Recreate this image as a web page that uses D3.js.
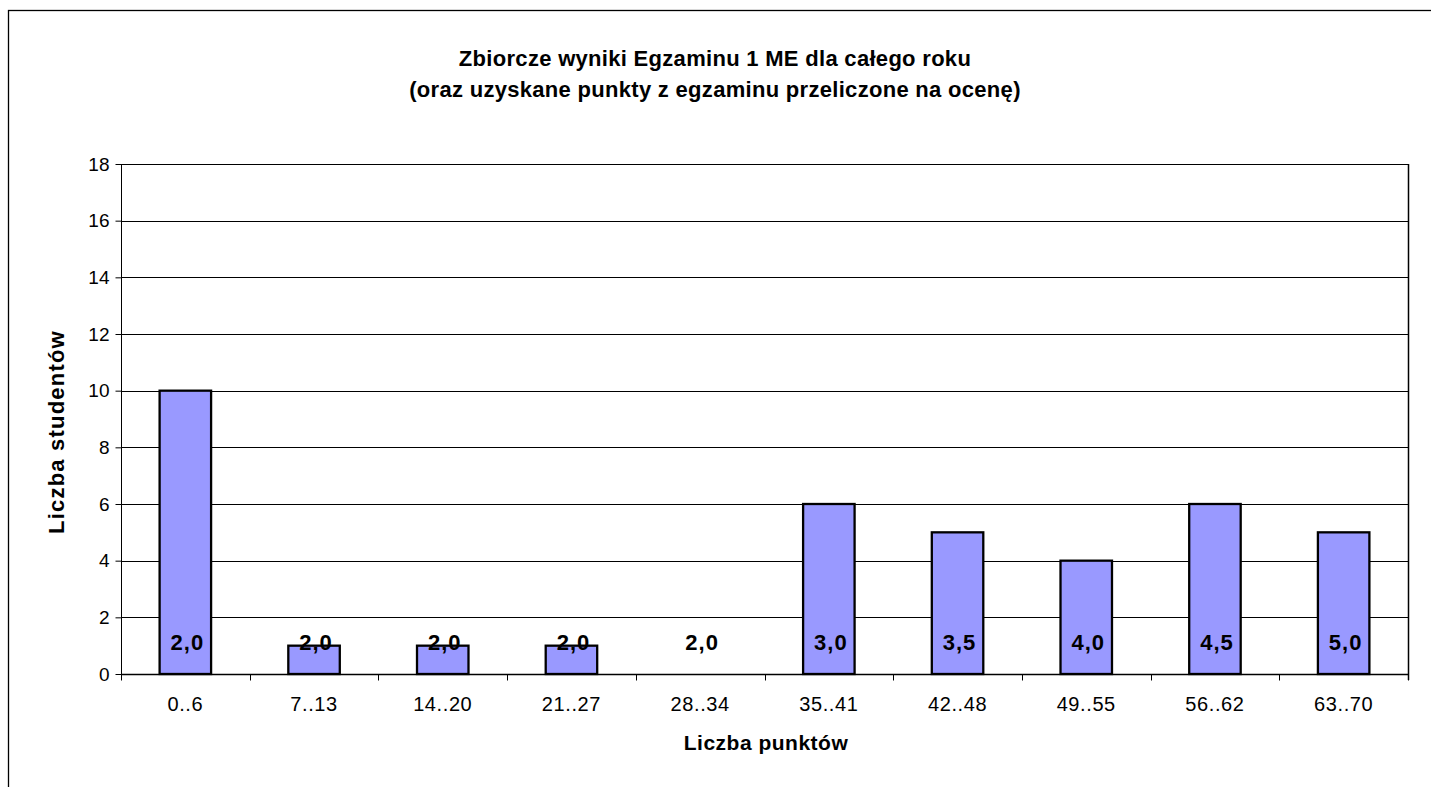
<!DOCTYPE html>
<html>
<head>
<meta charset="utf-8">
<script src="https://cdn.jsdelivr.net/npm/d3@7"></script>
<style>
  body { margin: 0; background: #fff; }
  svg { display: block; }
  text { font-family: "Liberation Sans", Arial, sans-serif; fill: #000; }
</style>
</head>
<body>
<svg width="1431" height="787"></svg>
<script>
// categories (point ranges) and number of students in each
var categories = ["0..6", "7..13", "14..20", "21..27", "28..34", "35..41", "42..48", "49..55", "56..62", "63..70"];
var students = [10, 1, 1, 1, 0, 6, 5, 4, 6, 5];
// grade shown on every bar
var grades = ["2,0", "2,0", "2,0", "2,0", "2,0", "3,0", "3,5", "4,0", "4,5", "5,0"];
var yTicks = [0, 2, 4, 6, 8, 10, 12, 14, 16, 18];

var titleLines = ["Zbiorcze wyniki Egzaminu 1 ME dla całego roku",
                  "(oraz uzyskane punkty z egzaminu przeliczone na ocenę)"];

var svg = d3.select("svg"),
    width = +svg.attr("width"),
    height = +svg.attr("height");

var margin = {left: 121, right: 1408, top: 164, bottom: 674};

// outer chart border (right and bottom edges fall outside the picture)
svg.append("rect")
    .attr("x", 8.5)
    .attr("y", 10.5)
    .attr("width", 1440)
    .attr("height", 800)
    .style("fill", "none")
    .style("stroke", "#000")
    .style("stroke-width", 1.3);

var x = d3.scaleBand()
    .domain(categories)
    .range([margin.left, margin.right])
    .paddingInner(0.6)
    .paddingOuter(0.3);

var y = d3.scaleLinear()
    .domain([0, 18])
    .range([margin.bottom, margin.top]);

// horizontal gridlines
svg.append("g")
    .selectAll("line")
    .data(yTicks.slice(1))
    .enter().append("line")
    .attr("x1", margin.left)
    .attr("x2", margin.right)
    .attr("y1", function(d) { return Math.round(y(d)) + 0.5; })
    .attr("y2", function(d) { return Math.round(y(d)) + 0.5; })
    .style("stroke", "#000")
    .style("stroke-width", 1);

// right edge of plot area
svg.append("line")
    .attr("x1", margin.right + 0.5).attr("x2", margin.right + 0.5)
    .attr("y1", margin.top).attr("y2", margin.bottom + 6)
    .style("stroke", "#000")
    .style("stroke-width", 1.5);

// bars
svg.append("g")
    .selectAll("rect")
    .data(students)
    .enter().append("rect")
    .attr("x", function(d, i) { return x(categories[i]); })
    .attr("y", function(d) { return y(d); })
    .attr("width", x.bandwidth())
    .attr("height", function(d) { return y(0) - y(d); })
    .style("fill", "#9999ff")
    .style("stroke", "#000")
    .style("stroke-width", 2.3)
    .style("display", function(d) { return d > 0 ? null : "none"; });

// y axis
var yAxis = svg.append("g")
    .attr("transform", "translate(" + (margin.left + 0.5) + ",0)")
    .call(d3.axisLeft(y).tickValues(yTicks).tickSize(6).tickPadding(6));
yAxis.select(".domain").attr("d", "M0," + margin.top + "V" + (margin.bottom + 3));
yAxis.selectAll("text").style("font-size", "19px").attr("font-family", null);
yAxis.selectAll("line, path").style("stroke", "#000");

// x axis, ticks sit between categories
var xAxis = svg.append("g")
    .attr("transform", "translate(0," + (margin.bottom + 0.5) + ")");
xAxis.append("line")
    .attr("x1", margin.left).attr("x2", margin.right)
    .style("stroke", "#000").style("stroke-width", 1.5);
xAxis.selectAll(".sep")
    .data(d3.range(categories.length + 1))
    .enter().append("line")
    .attr("class", "sep")
    .attr("x1", function(i) { return Math.round(margin.left + i * (margin.right - margin.left) / categories.length) + 0.5; })
    .attr("x2", function(i) { return Math.round(margin.left + i * (margin.right - margin.left) / categories.length) + 0.5; })
    .attr("y1", 0).attr("y2", 6)
    .style("stroke", "#000");
xAxis.selectAll(".lbl")
    .data(categories)
    .enter().append("text")
    .attr("class", "lbl")
    .attr("x", function(d) { return x(d) + x.bandwidth() / 2; })
    .attr("y", 36)
    .attr("text-anchor", "middle")
    .style("font-size", "20px")
    .style("letter-spacing", "0.6px")
    .text(function(d) { return d; });

// grade labels at the base of the bars
svg.append("g")
    .selectAll("text")
    .data(grades)
    .enter().append("text")
    .attr("x", function(d, i) { return x(categories[i]) + x.bandwidth() / 2 + 2; })
    .attr("y", margin.bottom - 24)
    .attr("text-anchor", "middle")
    .style("font-size", "22px")
    .style("font-weight", "bold")
    .style("letter-spacing", "1px")
    .text(function(d) { return d; });

// title
svg.append("g")
    .selectAll("text")
    .data(titleLines)
    .enter().append("text")
    .attr("x", 715)
    .attr("y", function(d, i) { return 66 + i * 31; })
    .attr("text-anchor", "middle")
    .style("font-size", "22px")
    .style("font-weight", "bold")
    .style("letter-spacing", "0.3px")
    .text(function(d) { return d; });

// axis titles
svg.append("text")
    .attr("x", 766)
    .attr("y", 750)
    .attr("text-anchor", "middle")
    .style("font-size", "21px")
    .style("font-weight", "bold")
    .style("letter-spacing", "0.5px")
    .text("Liczba punktów");

svg.append("text")
    .attr("transform", "translate(64," + 432 + ") rotate(-90)")
    .attr("text-anchor", "middle")
    .style("font-size", "22px")
    .style("font-weight", "bold")
    .style("letter-spacing", "1.2px")
    .text("Liczba studentów");
</script>
</body>
</html>
